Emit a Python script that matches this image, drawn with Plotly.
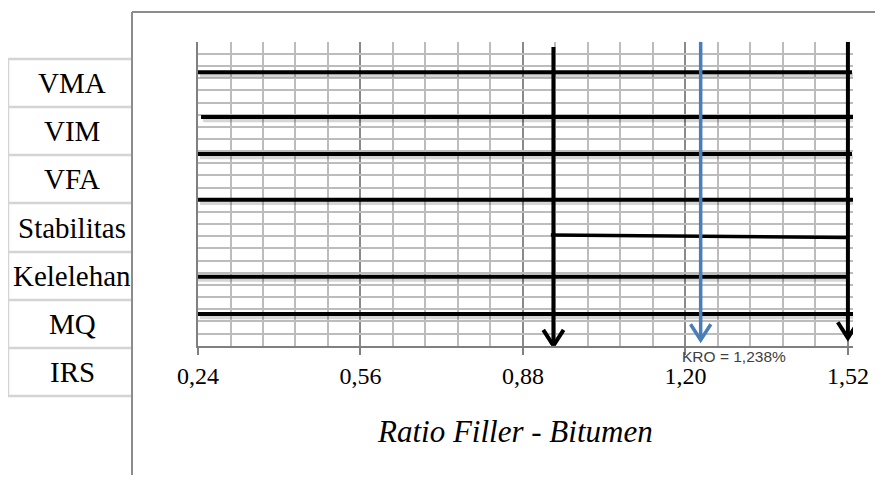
import plotly.graph_objects as go

# ---------------- data ----------------
criteria = ["VMA", "VIM", "VFA", "Stabilitas", "Kelelehan", "MQ", "IRS"]
# horizontal range bars (one per criterion, IRS has none)
range_start = [0.240, 0.246, 0.240, 0.240, 0.236, 0.240]
range_end = [1.528, 1.534, 1.528, 1.532, 1.520, 1.530]
range_level = [22.48, 18.80, 15.76, 12.00, 5.68, 2.60]
# second (lower) Stabilitas segment
stab2_x = [0.935, 1.520]
stab2_y = [9.10, 8.90]
# black boundary arrows
bound_x = [0.940, 1.520]
bound_top = [24.56, 25.00]
bound_tip = [0.00, 0.63]
# KRO arrow
kro_x = 1.230
kro_top = 25.00
kro_tip = 0.47
kro_label = "KRO = 1,238%"
# axis
tick_vals = [0.24, 0.56, 0.88, 1.20, 1.52]
tick_text = ["0,24", "0,56", "0,88", "1,20", "1,52"]
x_range = [0.24, 1.53]
y_range = [0, 25]
x_title = "Ratio Filler - Bitumen"

# page geometry (the html body has an 8px margin)
WIN_W, WIN_H = 883, 483
OFF = 8
FW, FH = WIN_W - 2 * OFF, WIN_H - 2 * OFF


def px(x):
    return (x - OFF) / FW


def py(y):
    return 1 - (y - OFF) / FH


fig = go.Figure()

ARM_DX = 0.02
ARM_DY = 1.3


def arrow(x, top, tip, color, width):
    fig.add_trace(go.Scatter(
        x=[x, x, None, x - ARM_DX, x, x + ARM_DX],
        y=[top, tip, None, tip + ARM_DY, tip, tip + ARM_DY],
        mode="lines", line=dict(color=color, width=width),
        hoverinfo="skip", showlegend=False))


# shadows for horizontal bars
for xs, xe, lv in zip(range_start, range_end, range_level):
    fig.add_trace(go.Scatter(x=[xs + 0.004, xe + 0.004], y=[lv - 0.22, lv - 0.22],
                             mode="lines", line=dict(color="rgba(0,0,0,0.16)", width=5),
                             hoverinfo="skip", showlegend=False))

for xs, xe, lv in zip(range_start, range_end, range_level):
    fig.add_trace(go.Scatter(x=[xs, xe], y=[lv, lv], mode="lines",
                             line=dict(color="black", width=4),
                             hoverinfo="skip", showlegend=False))

fig.add_trace(go.Scatter(x=stab2_x, y=stab2_y, mode="lines",
                         line=dict(color="black", width=3.5),
                         hoverinfo="skip", showlegend=False))

for bx, bt, bp in zip(bound_x, bound_top, bound_tip):
    arrow(bx, bt, bp, "black", 4)

arrow(kro_x, kro_top, kro_tip, "#4a7ebb", 3.5)

# ---------------- layout ----------------
shapes = []
frame_col = "#8c8c8c"
shapes.append(dict(type="line", xref="paper", yref="paper", x0=px(132), x1=px(883),
                   y0=py(12), y1=py(12), line=dict(color=frame_col, width=2)))
shapes.append(dict(type="line", xref="paper", yref="paper", x0=px(132), x1=px(132),
                   y0=py(12), y1=py(481), line=dict(color=frame_col, width=2)))

tbl_col = "#d4d4d4"
row_edges = [59, 107, 155, 203, 252, 300, 348, 396]
for ry in row_edges:
    shapes.append(dict(type="line", xref="paper", yref="paper", x0=px(8), x1=px(131),
                       y0=py(ry), y1=py(ry), line=dict(color=tbl_col, width=2.5)))
shapes.append(dict(type="line", xref="paper", yref="paper", x0=px(8), x1=px(8),
                   y0=py(row_edges[0]), y1=py(row_edges[-1]), line=dict(color=tbl_col, width=2.5)))

annotations = []
for i, name in enumerate(criteria):
    cy = (row_edges[i] + row_edges[i + 1]) / 2
    annotations.append(dict(text=name, xref="paper", yref="paper", x=px(72), y=py(cy),
                            xanchor="center", yanchor="middle", showarrow=False,
                            font=dict(family="Liberation Serif", size=29, color="black")))

annotations.append(dict(text=kro_label, xref="x", yref="paper", x=kro_x, xshift=33,
                        y=py(356), xanchor="center", yanchor="middle", showarrow=False,
                        font=dict(family="Liberation Sans", size=15.5, color="#404040")))

annotations.append(dict(text="<i>" + x_title + "</i>", xref="paper", yref="paper",
                        x=px(515), y=py(431), xanchor="center", yanchor="middle",
                        showarrow=False,
                        font=dict(family="Liberation Serif", size=31, color="black")))

fig.update_layout(
    template="none",
    width=FW, height=FH,
    autosize=False,
    margin=dict(l=0, r=0, t=0, b=0, pad=0),
    paper_bgcolor="white", plot_bgcolor="white",
    showlegend=False,
    separators=",.",
    shapes=shapes,
    annotations=annotations,
    xaxis=dict(
        domain=[px(198), px(853)], range=x_range, automargin=False,
        tickmode="array", tickvals=tick_vals, ticktext=tick_text,
        ticks="outside", ticklen=7, tickcolor="#808080", tickwidth=1.5,
        showgrid=True, gridcolor="#8a8a8a", gridwidth=1.5,
        minor=dict(tickmode="linear", tick0=0.24, dtick=0.064, showgrid=True,
                   gridcolor="#bcbcbc", gridwidth=1.5, ticks=""),
        showline=True, linecolor="#808080", linewidth=2,
        zeroline=False, fixedrange=True,
        tickfont=dict(family="Liberation Serif", size=24, color="black"),
    ),
    yaxis=dict(
        domain=[py(345.7), py(41.7)], range=y_range, automargin=False,
        tickmode="linear", tick0=0, dtick=1,
        showgrid=True, gridcolor="#bcbcbc", gridwidth=1.5,
        showticklabels=False, ticks="",
        showline=True, linecolor="#808080", linewidth=2,
        zeroline=False, fixedrange=True,
    ),
)

fig.write_html("out.html")
